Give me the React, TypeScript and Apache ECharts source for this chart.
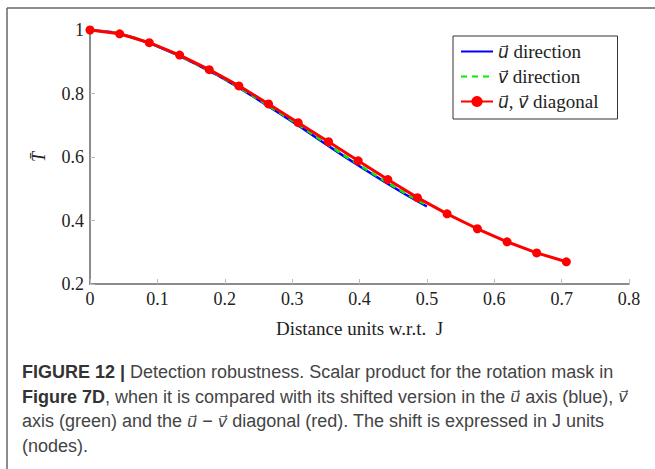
import React, { useEffect, useRef } from "react";
import * as echarts from "echarts";

const xTicks = [0, 0.1, 0.2, 0.3, 0.4, 0.5, 0.6, 0.7, 0.8];
const yTicks = [0.2, 0.4, 0.6, 0.8, 1];

const diagX = [0, 0.044, 0.088, 0.133, 0.177, 0.221, 0.265, 0.309, 0.354, 0.398, 0.442, 0.486, 0.53, 0.575, 0.619, 0.663, 0.707];
const diagY = [1, 0.988, 0.96, 0.921, 0.875, 0.824, 0.767, 0.708, 0.648, 0.588, 0.529, 0.472, 0.421, 0.374, 0.333, 0.298, 0.27];

const axisX = [0, 0.031, 0.063, 0.094, 0.125, 0.156, 0.188, 0.219, 0.25, 0.281, 0.313, 0.344, 0.375, 0.406, 0.438, 0.469, 0.5];
const uY = [1, 0.994, 0.977, 0.954, 0.926, 0.894, 0.859, 0.821, 0.78, 0.738, 0.694, 0.649, 0.605, 0.563, 0.521, 0.481, 0.444];
const vY = [1, 0.994, 0.978, 0.955, 0.927, 0.895, 0.86, 0.822, 0.782, 0.74, 0.697, 0.652, 0.608, 0.566, 0.524, 0.484, 0.448];

const seriesNames = ["u direction", "v direction", "diagonal"];
const xName = "Distance units w.r.t.  J";
const yName = "T\u0304";

const U = "u\u20D7";
const V = "v\u20D7";

// caption segments: [style, text]
const captionLines: [string, string][][] = [
  [["b", "FIGURE 12 |"], ["n", " Detection robustness. Scalar product for the rotation mask in"]],
  [["b", "Figure 7D"], ["n", ", when it is compared with its shifted version in the "], ["m", U], ["n", " axis (blue), "], ["m", V]],
  [["n", "axis (green) and the "], ["m", U], ["n", " \u2212 "], ["m", V], ["n", " diagonal (red). The shift is expressed in J units"]],
  [["n", "(nodes)."]],
];

const serif = "'Liberation Serif', 'DejaVu Serif', serif";
const sans = "'Liberation Sans', Arial, sans-serif";
const vecFont = "'DejaVu Sans', sans-serif";

export default function App() {
  const ref = useRef<HTMLDivElement>(null);
  useEffect(() => {
    if (!ref.current) return;
    const chart = echarts.init(ref.current, null, { renderer: "svg" });
    const pair = (xs: number[], ys: number[]) => xs.map((x, i) => [x, ys[i]]);
    const legendLabel: Record<string, string> = {
      [seriesNames[0]]: `{i|${U}} direction`,
      [seriesNames[1]]: `{i|${V}} direction`,
      [seriesNames[2]]: `{i|${U}}, {i|${V}} diagonal`,
    };
    chart.setOption({
      animation: false,
      backgroundColor: "#fff",
      grid: { left: 90, right: 26, top: 30, bottom: 185, containLabel: false },
      xAxis: {
        type: "value",
        min: xTicks[0],
        max: xTicks[xTicks.length - 1],
        interval: 0.1,
        name: xName,
        nameLocation: "middle",
        nameGap: 35,
        nameTextStyle: { fontFamily: serif, fontSize: 19, color: "#222" },
        axisLine: { lineStyle: { color: "#666", width: 1.5 } },
        axisTick: { inside: true, length: 5, lineStyle: { color: "#bbb", width: 1 } },
        axisLabel: {
          fontFamily: serif,
          fontSize: 18,
          color: "#222",
          margin: 6,
          formatter: (v: number) => (v === 0 ? "0" : v.toFixed(1)),
        },
        splitLine: { show: false },
      },
      yAxis: {
        type: "value",
        min: yTicks[0],
        max: yTicks[yTicks.length - 1],
        interval: 0.2,
        name: yName,
        nameLocation: "middle",
        nameGap: 42,
        nameTextStyle: { fontFamily: serif, fontSize: 18, fontStyle: "italic", color: "#222" },
        axisLine: { show: true, lineStyle: { color: "#666", width: 1.5 } },
        axisTick: { show: true, inside: true, length: 5, lineStyle: { color: "#bbb", width: 1 } },
        axisLabel: {
          fontFamily: serif,
          fontSize: 18,
          color: "#222",
          margin: 6,
          formatter: (v: number) => (Math.abs(v - 1) < 1e-9 ? "1" : v.toFixed(1)),
        },
        splitLine: { show: false },
      },
      legend: {
        orient: "vertical",
        left: 453,
        top: 36,
        padding: [6, 19, 8, 7],
        itemWidth: 32,
        itemHeight: 14,
        itemGap: 6,
        borderColor: "#333",
        borderWidth: 1,
        backgroundColor: "#fff",
        data: [
          { name: seriesNames[0], itemStyle: { opacity: 0 } },
          { name: seriesNames[1], itemStyle: { opacity: 0 } },
          { name: seriesNames[2] },
        ],
        formatter: (n: string) => legendLabel[n],
        textStyle: {
          fontFamily: serif,
          fontSize: 19,
          color: "#222",
          rich: { i: { fontFamily: vecFont, fontSize: 17, fontStyle: "italic", color: "#222" } },
        },
      },
      series: [
        {
          name: seriesNames[0],
          type: "line",
          data: pair(axisX, uY),
          symbol: "none",
          lineStyle: { color: "#0000ff", width: 2.5 },
          itemStyle: { color: "#0000ff" },
          z: 2,
        },
        {
          name: seriesNames[1],
          type: "line",
          data: pair(axisX, vY),
          symbol: "none",
          lineStyle: { color: "#00ee00", width: 2.5, type: [6, 5] },
          itemStyle: { color: "#00ee00" },
          z: 3,
        },
        {
          name: seriesNames[2],
          type: "line",
          data: pair(diagX, diagY),
          symbol: "circle",
          symbolSize: 9,
          lineStyle: { color: "#ff0000", width: 3 },
          itemStyle: { color: "#ff0000" },
          z: 4,
        },
      ],
      graphic: [
        { type: "line", shape: { x1: 7, y1: 8, x2: 655, y2: 8 }, style: { stroke: "#666", lineWidth: 1.5 } },
        { type: "line", shape: { x1: 7, y1: 8, x2: 7, y2: 469 }, style: { stroke: "#666", lineWidth: 1.5 } },
        ...captionLines.map((ln, i) => ({
          type: "text",
          left: 22,
          top: 363 + i * 24.5,
          style: {
            text: ln.map(([s, t]) => `{${s}|${t}}`).join(""),
            rich: {
              b: { fontFamily: sans, fontSize: 18, fontWeight: "bold", fill: "#333" },
              n: { fontFamily: sans, fontSize: 18, fill: "#444" },
              m: { fontFamily: vecFont, fontSize: 16, fontStyle: "italic", fill: "#444" },
            },
          },
        })),
      ],
    });
    return () => chart.dispose();
  }, []);
  return <div ref={ref} style={{ position: "fixed", left: 0, top: 0, width: 655, height: 469 }} />;
}
